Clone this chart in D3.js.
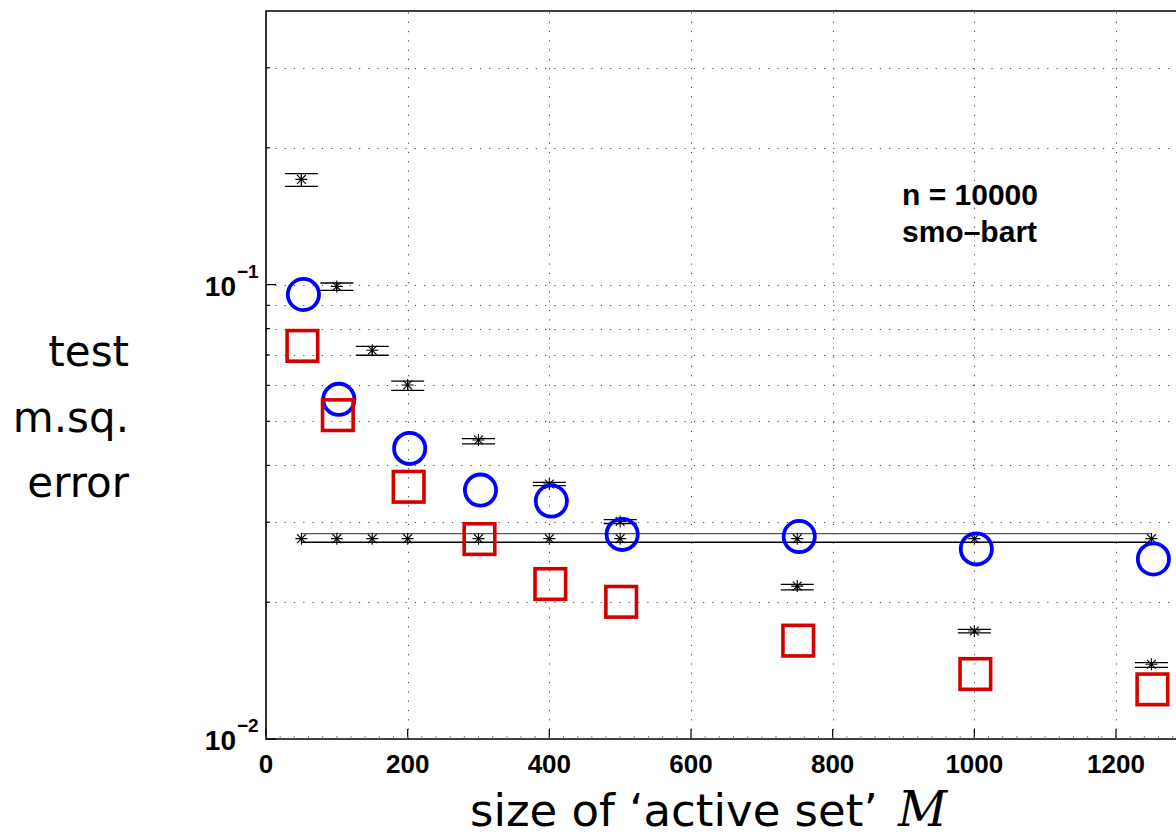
<!DOCTYPE html>
<html>
<head>
<meta charset="utf-8">
<script src="https://cdn.jsdelivr.net/npm/d3@7"></script>
<style>
  body { margin: 0; background: #fff; }
  svg { display: block; }
</style>
</head>
<body>
<div class="container"></div>
<script>
const W = 1176;
const H = 836;

// size of active set
const M = [50, 100, 150, 200, 300, 400, 500, 750, 1000, 1250];
// black stars with error bars
const starErr = [0.1704, 0.0990, 0.0717, 0.0601, 0.0455, 0.0364, 0.0301, 0.0217, 0.01728, 0.0146];
const starHi = [0.1754, 0.1008, 0.0731, 0.0613, 0.0458, 0.0367, 0.0304, 0.0219, 0.01742, 0.01472];
const starLo = [0.1645, 0.0971, 0.0699, 0.0585, 0.0446, 0.0361, 0.0298, 0.0213, 0.01713, 0.01438];
// baseline stars and band lines
const baseErr = [0.0276, 0.0276, 0.0276, 0.0276, 0.0276, 0.0276, 0.0276, 0.0276, 0.0276, 0.0276];
const baseHi = [0.0283, 0.0283, 0.0283, 0.0283, 0.0283, 0.0283, 0.0283, 0.0283, 0.0283, 0.0283];
const baseLo = [0.0271, 0.0271, 0.0271, 0.0271, 0.0271, 0.0271, 0.0271, 0.0271, 0.0271, 0.0271];
// circles and squares
const M2 = [50, 100, 200, 300, 400, 500, 750, 1000, 1250];
const circleErr = [0.0951, 0.0559, 0.0436, 0.0353, 0.0334, 0.0282, 0.0279, 0.0262, 0.0249];
const squareErr = [0.0733, 0.0516, 0.0359, 0.02754, 0.02193, 0.02004, 0.01646, 0.0139, 0.01286];

const xTicks = [0, 200, 400, 600, 800, 1000, 1200];
const yMajor = [0.01, 0.1];
const yExp = ['\u22122', '\u22121'];
const yGrid = [0.02, 0.03, 0.04, 0.05, 0.06, 0.07, 0.08, 0.09, 0.1, 0.2, 0.3];

const plot = { left: 266, top: 11, bottom: 739 };

const x = d3.scaleLinear().domain([0, 1300]).range([plot.left, plot.left + 1300 * 0.70833]);
const y = d3.scaleLog().domain([0.01, 0.4]).range([plot.bottom, plot.top]);

const svg = d3.select('.container')
    .append('svg')
    .attr('width', W)
    .attr('height', H)
    .attr('viewBox', [0, 0, W, H]);

const right = x(1300);

// grid
const grid = svg.append('g')
    .attr('stroke', '#444')
    .attr('stroke-width', 1)
    .attr('stroke-dasharray', '1.2,8.1');
grid.selectAll('line.h')
    .data(yGrid)
    .join('line')
    .attr('class', 'h')
    .attr('x1', plot.left).attr('x2', right)
    .attr('y1', d => Math.round(y(d)) + 0.5).attr('y2', d => Math.round(y(d)) + 0.5);
grid.selectAll('line.v')
    .data(xTicks.slice(1))
    .join('line')
    .attr('class', 'v')
    .attr('x1', d => Math.round(x(d)) + 0.5).attr('x2', d => Math.round(x(d)) + 0.5)
    .attr('y1', plot.bottom).attr('y2', plot.top);

// axes box
svg.append('path')
    .attr('d', `M${right},${plot.top}H${plot.left}V${plot.bottom}H${right}`)
    .attr('fill', 'none')
    .attr('stroke', '#000')
    .attr('stroke-width', 1.6);

// y ticks (inward)
svg.append('g').selectAll('line')
    .data(yGrid.concat([0.01]))
    .join('line')
    .attr('x1', plot.left)
    .attr('x2', d => plot.left + (yMajor.includes(d) ? 10 : 4))
    .attr('y1', d => y(d)).attr('y2', d => y(d))
    .attr('stroke', '#000').attr('stroke-width', 1.2);

// x ticks (inward)
svg.append('g').selectAll('line')
    .data(xTicks)
    .join('line')
    .attr('x1', d => x(d)).attr('x2', d => x(d))
    .attr('y1', plot.bottom).attr('y2', plot.bottom - 10)
    .attr('stroke', '#000').attr('stroke-width', 1.2);
svg.append('g').selectAll('line')
    .data(d3.range(0, 1300, 20))
    .join('line')
    .attr('x1', d => x(d)).attr('x2', d => x(d))
    .attr('y1', plot.bottom).attr('y2', plot.bottom - 3)
    .attr('stroke', '#666').attr('stroke-width', 0.8);

// x tick labels
svg.append('g').selectAll('text')
    .data(xTicks)
    .join('text')
    .attr('x', d => x(d))
    .attr('y', 773)
    .attr('text-anchor', 'middle')
    .style('font-family', 'Liberation Sans, Arial, sans-serif')
    .style('font-weight', 'bold')
    .style('font-size', '26px')
    .text(d => d);

// y tick labels 10^-k
const yl = svg.append('g')
    .style('font-family', 'Liberation Sans, Arial, sans-serif')
    .style('font-weight', 'bold');
yl.selectAll('text.base')
    .data(yMajor)
    .join('text')
    .attr('class', 'base')
    .attr('x', 236)
    .attr('y', d => y(d) + 11)
    .attr('text-anchor', 'end')
    .style('font-size', '28px')
    .text('10');
yl.selectAll('text.exp')
    .data(yMajor)
    .join('text')
    .attr('class', 'exp')
    .attr('x', 237)
    .attr('y', (d, i) => y(d) - 7)
    .style('font-size', '19px')
    .text((d, i) => yExp[i]);

// y label
svg.append('g').selectAll('text')
    .data(['test', 'm.sq.', 'error'])
    .join('text')
    .attr('x', 129)
    .attr('y', (d, i) => 366 + i * 65.5)
    .attr('text-anchor', 'end')
    .style('font-family', 'DejaVu Sans, sans-serif')
    .style('font-size', '42px')
    .text(d => d);

// x label
const xl = svg.append('text')
    .attr('x', 470)
    .attr('y', 826)
    .style('font-family', 'DejaVu Sans, sans-serif')
    .style('font-size', '45px');
xl.append('tspan').text('size of \u2018active set\u2019 ');
xl.append('tspan')
    .attr('dx', 6)
    .style('font-family', 'DejaVu Serif, Liberation Serif, serif')
    .style('font-style', 'italic')
    .style('font-size', '48px')
    .text('M');

// annotation
svg.append('g').selectAll('text')
    .data(['n = 10000', 'smo\u2013bart'])
    .join('text')
    .attr('x', 902)
    .attr('y', (d, i) => 205 + i * 37)
    .style('font-family', 'Liberation Sans, Arial, sans-serif')
    .style('font-weight', 'bold')
    .style('font-size', '30px')
    .text(d => d);

// asterisk marker
function star(g, cx, cy) {
    const a = 6, b = 4.4;
    g.append('path')
        .attr('d', `M${cx - a},${cy}H${cx + a}M${cx},${cy - a}V${cy + a}` +
            `M${cx - b},${cy - b}L${cx + b},${cy + b}M${cx - b},${cy + b}L${cx + b},${cy - b}`)
        .attr('stroke', '#000')
        .attr('stroke-width', 1.1)
        .attr('fill', 'none');
}

const marks = svg.append('g');

// baseline band lines
const bandLine = d3.line().x(d => x(d[0])).y(d => y(d[1]));
marks.append('path')
    .attr('d', bandLine(M.map((m, i) => [m, baseHi[i]])))
    .attr('stroke', '#555').attr('stroke-width', 1.3).attr('fill', 'none');
marks.append('path')
    .attr('d', bandLine(M.map((m, i) => [m, baseLo[i]])))
    .attr('stroke', '#000').attr('stroke-width', 1.3).attr('fill', 'none');
M.forEach((m, i) => star(marks, x(m), y(baseErr[i])));

// error bars
const cap = 16.5;
M.forEach((m, i) => {
    const cx = x(m);
    marks.append('path')
        .attr('d', `M${cx},${y(starHi[i])}V${y(starLo[i])}` +
            `M${cx - cap},${y(starHi[i])}H${cx + cap}M${cx - cap},${y(starLo[i])}H${cx + cap}`)
        .attr('stroke', '#000')
        .attr('stroke-width', 1.3)
        .attr('fill', 'none');
    star(marks, cx, y(starErr[i]));
});

// circles
marks.append('g').selectAll('circle')
    .data(M2)
    .join('circle')
    .attr('cx', d => x(d) + 2)
    .attr('cy', (d, i) => y(circleErr[i]))
    .attr('r', 15.6)
    .attr('fill', 'none')
    .attr('stroke', '#0000ff')
    .attr('stroke-width', 3.8);

// squares
const side = 30.6;
marks.append('g').selectAll('rect')
    .data(M2)
    .join('rect')
    .attr('x', d => x(d) + 1 - side / 2)
    .attr('y', (d, i) => y(squareErr[i]) - side / 2)
    .attr('width', side)
    .attr('height', side)
    .attr('fill', 'none')
    .attr('stroke', '#d40000')
    .attr('stroke-width', 3.6);
</script>
</body>
</html>
